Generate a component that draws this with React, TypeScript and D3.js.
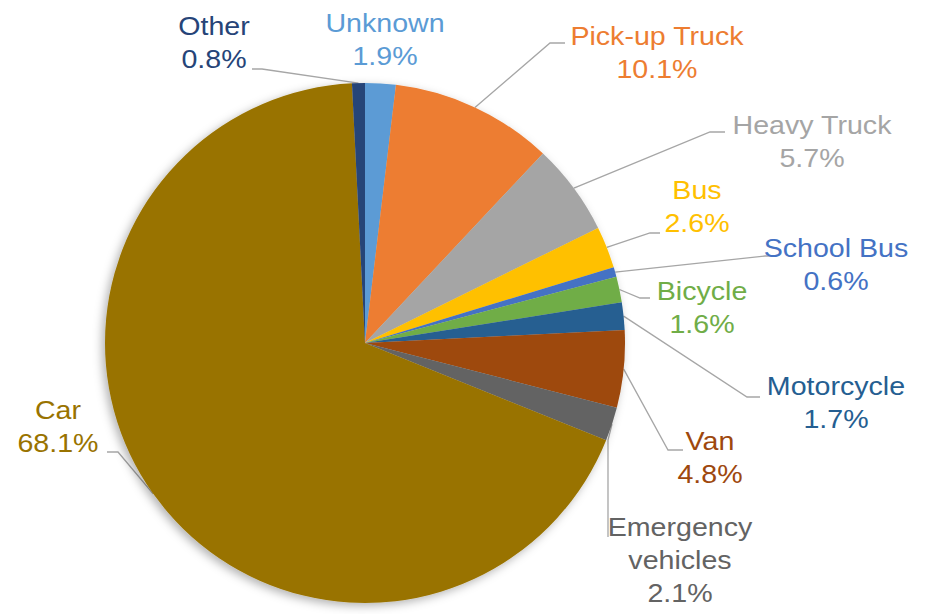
import React, { useEffect, useRef } from 'react';
import * as d3 from 'd3';

// Data (clockwise from 12 o'clock)
const categories = [
    'Unknown', 'Pick-up Truck', 'Heavy Truck', 'Bus', 'School Bus', 'Bicycle',
    'Motorcycle', 'Van', 'Emergency vehicles', 'Car', 'Other'
];
const shares = [1.9, 10.1, 5.7, 2.6, 0.6, 1.6, 1.7, 4.8, 2.1, 68.1, 0.8];
const sliceColors = [
    '#5B9BD5', '#ED7D31', '#A5A5A5', '#FFC000', '#4472C4', '#70AD47',
    '#255E91', '#9E480E', '#636363', '#997300', '#264478'
];

// Label placement: first line centre, text lines, leader elbow + end (null = no leader)
const labelLayout: Record<string, { x: number; y: number; lines: string[]; leader: number[][] | null }> = {
    'Unknown': { x: 385, y: 23, lines: ['Unknown'], leader: null },
    'Pick-up Truck': { x: 657, y: 36, lines: ['Pick-up Truck'], leader: [[550, 43], [565, 43]] },
    'Heavy Truck': { x: 812, y: 125, lines: ['Heavy Truck'], leader: [[710, 132], [725, 132]] },
    'Bus': { x: 697, y: 190, lines: ['Bus'], leader: [[650, 233], [660, 233]] },
    'School Bus': { x: 836, y: 248, lines: ['School Bus'], leader: [[765, 256], [775, 256]] },
    'Bicycle': { x: 702, y: 291, lines: ['Bicycle'], leader: [[640, 298], [650, 298]] },
    'Motorcycle': { x: 836, y: 386, lines: ['Motorcycle'], leader: [[747, 397], [760, 397]] },
    'Van': { x: 710, y: 441, lines: ['Van'], leader: [[668, 450], [683, 450]] },
    'Emergency vehicles': { x: 680, y: 527, lines: ['Emergency', 'vehicles'], leader: [[608, 440], [608, 537]] },
    'Car': { x: 58, y: 410, lines: ['Car'], leader: [[118, 452], [107, 452]] },
    'Other': { x: 214, y: 26, lines: ['Other'], leader: [[262, 69], [252, 69]] }
};

export default function App() {
    const ref = useRef<HTMLDivElement>(null);

    useEffect(() => {
        document.body.style.margin = '0';
        const container = d3.select(ref.current);
        container.select('svg').remove();

        const width = 939;
        const height = 614;
        const cx = 365;
        const cy = 343;
        const radius = 260;
        const lineHeight = 33;

        const data = categories.map((c, i) => ({ label: c, value: shares[i], color: sliceColors[i] }));

        const svg = container.append('svg')
            .attr('width', width)
            .attr('height', height)
            .style('display', 'block')
            .style('font-family', '"Liberation Sans", Arial, sans-serif');

        const defs = svg.append('defs');
        const filter = defs.append('filter')
            .attr('id', 'pie-shadow')
            .attr('x', '-20%').attr('y', '-20%')
            .attr('width', '140%').attr('height', '140%');
        filter.append('feDropShadow')
            .attr('dx', -3).attr('dy', 3)
            .attr('stdDeviation', 5)
            .attr('flood-color', '#000')
            .attr('flood-opacity', 0.3);

        const pie = d3.pie<typeof data[number]>()
            .value(d => d.value)
            .sort(null);

        const arc = d3.arc<d3.PieArcDatum<typeof data[number]>>()
            .innerRadius(0)
            .outerRadius(radius);

        const arcs = pie(data);

        // Leader lines (behind the pie)
        const leaders = svg.append('g').attr('transform', `translate(${cx},${cy})`);
        arcs.forEach(a => {
            const lay = labelLayout[a.data.label];
            if (!lay.leader) return;
            const mid = (a.startAngle + a.endAngle) / 2;
            const start: [number, number] = [Math.sin(mid) * radius, -Math.cos(mid) * radius];
            const pts: [number, number][] = [start, ...lay.leader.map(p => [p[0] - cx, p[1] - cy] as [number, number])];
            leaders.append('path')
                .attr('d', d3.line()(pts))
                .attr('fill', 'none')
                .attr('stroke', '#A6A6A6')
                .attr('stroke-width', 1.3);
        });

        // Slices
        const g = svg.append('g')
            .attr('transform', `translate(${cx},${cy})`)
            .attr('filter', 'url(#pie-shadow)');
        g.selectAll('path')
            .data(arcs)
            .enter().append('path')
            .attr('d', arc)
            .attr('fill', d => d.data.color);

        // Labels (slightly wide lettering, as in the original)
        const labels = svg.append('g');
        arcs.forEach(a => {
            const lay = labelLayout[a.data.label];
            const lines = [...lay.lines, a.data.value.toFixed(1) + '%'];
            const t = labels.append('text')
                .attr('transform', `translate(${lay.x},0) scale(1.1,1)`)
                .attr('text-anchor', 'middle')
                .attr('font-size', 26)
                .attr('fill', a.data.color);
            lines.forEach((ln, i) => {
                t.append('tspan')
                    .attr('x', 0)
                    .attr('y', lay.y + i * lineHeight)
                    .attr('dominant-baseline', 'central')
                    .text(ln);
            });
        });
    }, []);

    return <div ref={ref}></div>;
}
